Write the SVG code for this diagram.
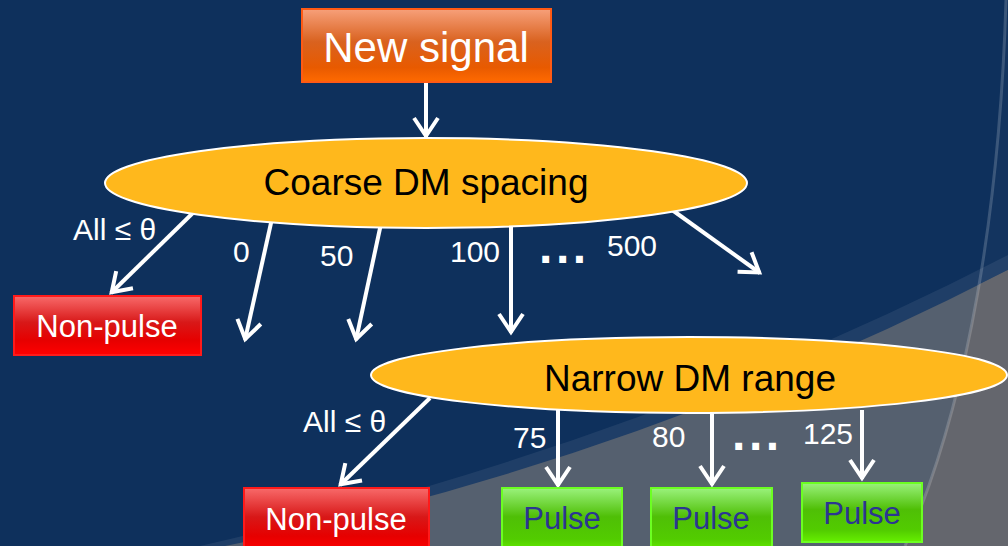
<svg xmlns="http://www.w3.org/2000/svg" width="1008" height="546" viewBox="0 0 1008 546">
  <defs>
    <linearGradient id="gOrange" x1="0" y1="0" x2="0" y2="1">
      <stop offset="0" stop-color="#f7a07a"/>
      <stop offset="0.45" stop-color="#d9621f"/>
      <stop offset="0.8" stop-color="#e85a00"/>
      <stop offset="1" stop-color="#ff6a00"/>
    </linearGradient>
    <linearGradient id="gRed" x1="0" y1="0" x2="0" y2="1">
      <stop offset="0" stop-color="#f86a6a"/>
      <stop offset="0.45" stop-color="#d81818"/>
      <stop offset="0.75" stop-color="#e60000"/>
      <stop offset="1" stop-color="#ff0000"/>
    </linearGradient>
    <linearGradient id="gGreen" x1="0" y1="0" x2="0" y2="1">
      <stop offset="0" stop-color="#9af27c"/>
      <stop offset="0.45" stop-color="#4fbf06"/>
      <stop offset="0.8" stop-color="#52cc00"/>
      <stop offset="1" stop-color="#66f000"/>
    </linearGradient>
    <clipPath id="bandClip">
      <path d="M 225 546 Q 640 460 1008 270 L 1008 546 Z"/>
    </clipPath>
    <marker id="chev" markerUnits="userSpaceOnUse" markerWidth="40" markerHeight="40" refX="0" refY="0" viewBox="-30 -20 40 40" orient="auto" overflow="visible">
      <path d="M -19 -12 L -1 0 L -19 12" fill="none" stroke="#ffffff" stroke-width="4" stroke-linejoin="miter"/>
    </marker>
  </defs>
  <style>
    .conn { stroke: #ffffff; stroke-width: 4; fill: none; marker-end: url(#chev); }
    .lbl { font-family: "Liberation Sans", Arial, sans-serif; font-size: 30px; fill: #ffffff; }
    .dots { font-family: "Liberation Sans", Arial, sans-serif; font-size: 48px; font-weight: bold; fill: #ffffff; letter-spacing: 3.6px; }
    .ell { fill: #ffb81c; stroke: #ffffff; stroke-width: 2; }
    .ellTxt { font-family: "Liberation Sans", Arial, sans-serif; font-size: 37px; fill: #000000; text-anchor: middle; }
    .boxTxt { font-family: "Liberation Sans", Arial, sans-serif; font-size: 31px; text-anchor: middle; }
    .red { fill: url(#gRed); stroke: #ff1a1a; stroke-width: 2; }
    .green { fill: url(#gGreen); stroke: #6cff22; stroke-width: 2; }
  </style>

  <!-- backdrop -->
  <rect x="0" y="0" width="1008" height="546" fill="#0e305c"/>
  <path d="M 200 546 Q 640 445 1008 255 L 1008 546 Z" fill="#ffffff" fill-opacity="0.07"/>
  <path d="M 225 546 Q 640 460 1008 270 L 1008 546 Z" fill="#55606f"/>
  <path d="M 1006 0 C 1000 200 970 400 905 546 L 1008 546 L 1008 0 Z" fill="#ffffff" fill-opacity="0.025"/>
  <g clip-path="url(#bandClip)">
    <path d="M 1006 0 C 1000 200 970 400 905 546 L 1008 546 L 1008 0 Z" fill="#64666d"/>
  </g>
  <path d="M 1006 0 C 1000 200 970 400 905 546" fill="none" stroke="#ffffff" stroke-opacity="0.18" stroke-width="3"/>

  <!-- connectors -->
  <g id="connectors">
    <line class="conn" x1="426" y1="82" x2="426" y2="137"/>
    <line class="conn" x1="200" y1="206" x2="111" y2="293"/>
    <line class="conn" x1="273" y1="214" x2="245" y2="340"/>
    <line class="conn" x1="382" y1="219" x2="356" y2="340"/>
    <line class="conn" x1="511" y1="218" x2="511" y2="333"/>
    <line class="conn" x1="668" y1="207" x2="760" y2="273"/>
    <line class="conn" x1="430" y1="398" x2="340" y2="485"/>
    <line class="conn" x1="558" y1="402" x2="558" y2="486"/>
    <line class="conn" x1="712" y1="412" x2="712" y2="485"/>
    <line class="conn" x1="862" y1="410" x2="862" y2="479"/>

    <text class="lbl" x="73" y="240">All ≤ θ</text>
    <text class="lbl" x="233" y="262">0</text>
    <text class="lbl" x="320" y="266">50</text>
    <text class="lbl" x="450" y="262">100</text>
    <text class="dots" x="539" y="263">...</text>
    <text class="lbl" x="607" y="256">500</text>

    <text class="lbl" x="303" y="432">All ≤ θ</text>
    <text class="lbl" x="513" y="448">75</text>
    <text class="lbl" x="652" y="447">80</text>
    <text class="dots" x="732" y="450">...</text>
    <text class="lbl" x="803" y="444">125</text>
  </g>

  <!-- nodes -->
  <g id="new-signal">
    <rect x="302" y="9" width="249" height="73" fill="url(#gOrange)" stroke="#ff5a14" stroke-width="2"/>
    <text x="426" y="62" font-family="Liberation Sans, Arial, sans-serif" font-size="42" fill="#ffffff" text-anchor="middle">New signal</text>
  </g>

  <g id="coarse-dm">
    <ellipse class="ell" cx="426" cy="183" rx="321" ry="45"/>
    <text class="ellTxt" x="426" y="195">Coarse DM spacing</text>
  </g>

  <g id="non-pulse-1">
    <rect class="red" x="14" y="296" width="187" height="59"/>
    <text class="boxTxt" x="107" y="337" fill="#ffffff">Non-pulse</text>
  </g>

  <g id="narrow-dm">
    <ellipse class="ell" cx="689" cy="375" rx="318" ry="38"/>
    <text class="ellTxt" x="690" y="391" font-size="36">Narrow DM range</text>
  </g>

  <g id="non-pulse-2">
    <rect class="red" x="244" y="488" width="185" height="64"/>
    <text class="boxTxt" x="336" y="530" fill="#ffffff">Non-pulse</text>
  </g>

  <g id="pulse-1">
    <rect class="green" x="502" y="488" width="120" height="64"/>
    <text class="boxTxt" x="562" y="529" fill="#2b3592">Pulse</text>
  </g>

  <g id="pulse-2">
    <rect class="green" x="651" y="488" width="121" height="64"/>
    <text class="boxTxt" x="711" y="529" fill="#2b3592">Pulse</text>
  </g>

  <g id="pulse-3">
    <rect class="green" x="802" y="483" width="120" height="59"/>
    <text class="boxTxt" x="862" y="524" fill="#2b3592">Pulse</text>
  </g>
</svg>
